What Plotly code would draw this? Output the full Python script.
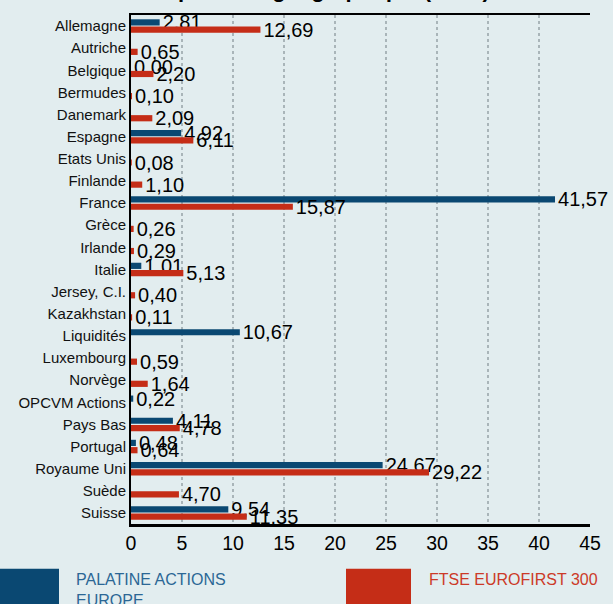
import plotly.graph_objects as go

categories = ["Allemagne", "Autriche", "Belgique", "Bermudes", "Danemark", "Espagne",
              "Etats Unis", "Finlande", "France", "Grèce", "Irlande", "Italie",
              "Jersey, C.I.", "Kazakhstan", "Liquidités", "Luxembourg", "Norvège",
              "OPCVM Actions", "Pays Bas", "Portugal", "Royaume Uni", "Suède", "Suisse"]

palatine = [2.81, None, 0.00, None, None, 4.92, None, None, 41.57, None, None, 1.01,
            None, None, 10.67, None, None, 0.22, 4.11, 0.48, 24.67, None, 9.54]

ftse = [12.69, 0.65, 2.20, 0.10, 2.09, 6.11, 0.08, 1.10, 15.87, 0.26, 0.29, 5.13,
        0.40, 0.11, None, 0.59, 1.64, None, 4.78, 0.64, 29.22, 4.70, 11.35]

series_names = ["PALATINE ACTIONS<br>EUROPE", "FTSE EUROFIRST 300"]
title_text = "Répartition géographique (en %)"
x_ticks = [0, 5, 10, 15, 20, 25, 30, 35, 40, 45]

BLUE = "#0A4872"
RED = "#C52D17"
BG = "#E2EDEF"
FONT = "Liberation Sans, Arial, sans-serif"

W, H = 613, 604
L, R, T, B = 131, 23, 12, 80
PW, PH = W - L - R, H - T - B


def px_x(p):
    return (p - L) / PW


def px_y(p):
    return (H - B - p) / PH


fig = go.Figure()
for vals, col in [(palatine, BLUE), (ftse, RED)]:
    fig.add_trace(go.Bar(
        y=categories, x=vals, orientation="h",
        marker=dict(color=col, line=dict(width=0)),
        texttemplate="%{x:.2f}", textposition="outside",
        textfont=dict(family=FONT, size=20, color="#000000"),
        constraintext="none", cliponaxis=False, showlegend=False,
        hoverinfo="skip",
    ))

fig.update_layout(
    width=W, height=H,
    margin=dict(l=L, r=R, t=T, b=B, pad=0),
    paper_bgcolor=BG, plot_bgcolor=BG,
    separators=", ",
    barmode="group", bargap=0.34, bargroupgap=0.15,
    font=dict(family=FONT, color="#000000"),
    xaxis=dict(range=[0, 45], tickvals=x_ticks, ticktext=[str(v) for v in x_ticks],
               showgrid=True, gridcolor="#A9B5B9", gridwidth=2, griddash="dot",
               showline=True, linecolor="#000000", linewidth=2.5, mirror=True,
               zeroline=False, ticks="", tickfont=dict(family=FONT, size=19.5, color="#000000"),
               fixedrange=True),
    yaxis=dict(autorange="reversed", showgrid=False, showline=True, linecolor="#000000",
               linewidth=2, zeroline=False, ticks="",
               tickfont=dict(family=FONT, size=15, color="#111111"), fixedrange=True),
)

fig.add_annotation(text="<b>" + title_text + "</b>", xref="paper", yref="paper",
                   x=px_x(320), y=px_y(1), xanchor="center", yanchor="bottom",
                   showarrow=False, font=dict(family=FONT, size=22, color="#000000"))

for x0, x1, col in [(-5, 59, BLUE), (346, 411, RED)]:
    fig.add_shape(type="rect", xref="paper", yref="paper",
                  x0=px_x(x0), x1=px_x(x1), y0=px_y(569), y1=px_y(610),
                  fillcolor=col, line=dict(width=0), layer="above")

for xpos, name, col in [(74, series_names[0], "#2B6795"), (427, series_names[1], "#CC3A28")]:
    fig.add_annotation(text=name, xref="paper", yref="paper",
                       x=px_x(xpos), y=px_y(569), xanchor="left", yanchor="top",
                       align="left", showarrow=False,
                       font=dict(family=FONT, size=16, color=col))

fig.write_html(
    "out.html",
    config={"displayModeBar": False, "staticPlot": True},
    post_script="document.body.style.margin='0';document.body.style.overflow='hidden';"
                "document.body.style.background='" + BG + "';",
)
